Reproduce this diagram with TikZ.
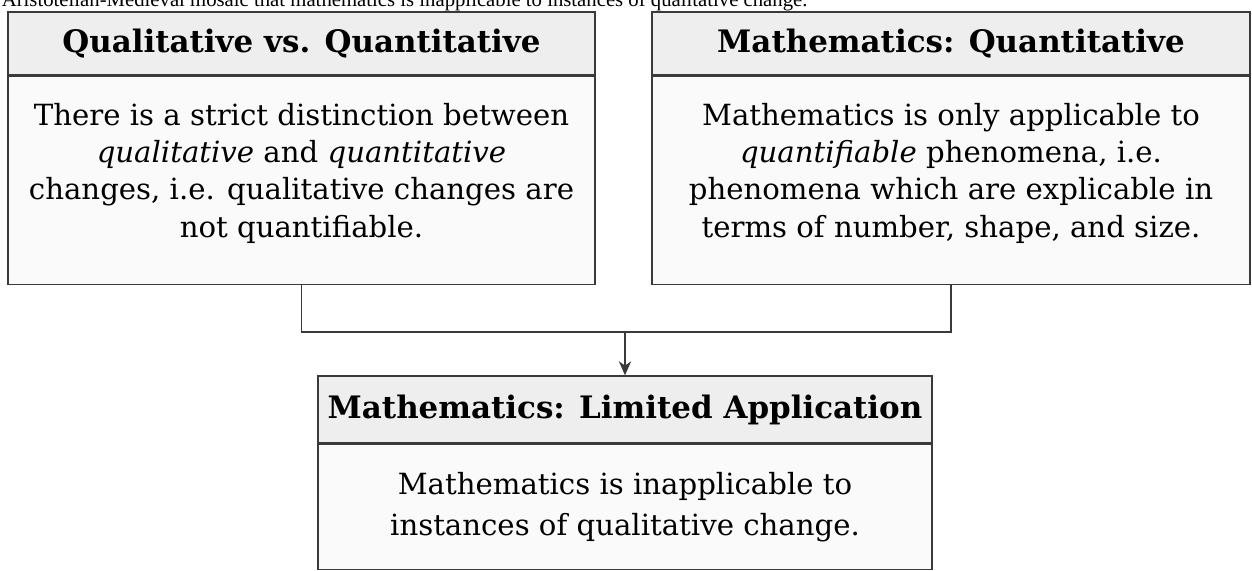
\documentclass[tikz,border=0pt]{standalone}
\usepackage{fontspec}
\setmainfont{DejaVu Serif}
\newfontfamily\capfont{Liberation Serif}
\usepackage{tikz}
\usetikzlibrary{
  arrows.meta,
  calc,
  positioning
}
\usepackage{xcolor}
\definecolor{linegray}{HTML}{3A3A3A}
\definecolor{headgray}{HTML}{EEEEEE}
\definecolor{bodygray}{HTML}{FAFAFA}
\newcommand{\hdfont}{\fontsize{17.6}{21}\selectfont\bfseries}
\newcommand{\bdfont}{\fontsize{16.6}{21.3}\selectfont}

\begin{document}
\begin{tikzpicture}[
  head/.style={draw=linegray, fill=headgray, line width=0.8pt, font=\hdfont, inner sep=0pt},
  body/.style={draw=linegray, fill=bodygray, line width=0.8pt, font=\bdfont, align=center, inner sep=0pt},
  link/.style={draw=linegray, line width=0.8pt},
  arrow/.style={-{Stealth[length=8pt, width=7pt, inset=2.5pt]}, link},
]
\useasboundingbox (0,0) rectangle (25.04,-11.4);

% Caption cut by the top edge
\node[font=\capfont\fontsize{11.8}{14}\selectfont, anchor=base west, inner sep=0pt] (cap) at (0.03,-0.12)
  {Aristotelian-Medieval mosaic that mathematics is inapplicable to instances of qualitative change.};

% Top row: the two premises
\node[head, minimum width=11.74cm, minimum height=1.26cm] (qq-head) at (6.03,-0.87) {Qualitative vs. Quantitative};
\node[body, minimum width=11.74cm, minimum height=4.16cm, text depth=0.41cm, below=0pt of qq-head] (qq-body)
  {There is a strict distinction between\\
   \textit{qualitative} and \textit{quantitative}\\
   changes, i.e. qualitative changes are\\
   not quantifiable.};

\node[head, minimum width=11.96cm, minimum height=1.26cm] (mq-head) at (19.02,-0.87) {Mathematics: Quantitative};
\node[body, minimum width=11.96cm, minimum height=4.16cm, text depth=0.41cm, below=0pt of mq-head] (mq-body)
  {Mathematics is only applicable to\\
   \textit{quantifiable} phenomena, i.e.\\
   phenomena which are explicable in\\
   terms of number, shape, and size.};

% Bottom: the conclusion
\node[head, minimum width=12.28cm, minimum height=1.34cm] (ml-head) at (12.5,-8.19) {Mathematics: Limited Application};
\node[body, minimum width=12.28cm, minimum height=2.5cm, below=0pt of ml-head] (ml-body)
  {Mathematics is inapplicable to\\[2pt]
   instances of qualitative change.};

% Connectors
\coordinate (bend) at ($(qq-body.south)+(0,-0.94)$);
\draw[link] (qq-body.south) -- (bend) -| (mq-body.south);
\draw[arrow] (ml-head.north |- bend) -- (ml-head.north);
\end{tikzpicture}
\end{document}
